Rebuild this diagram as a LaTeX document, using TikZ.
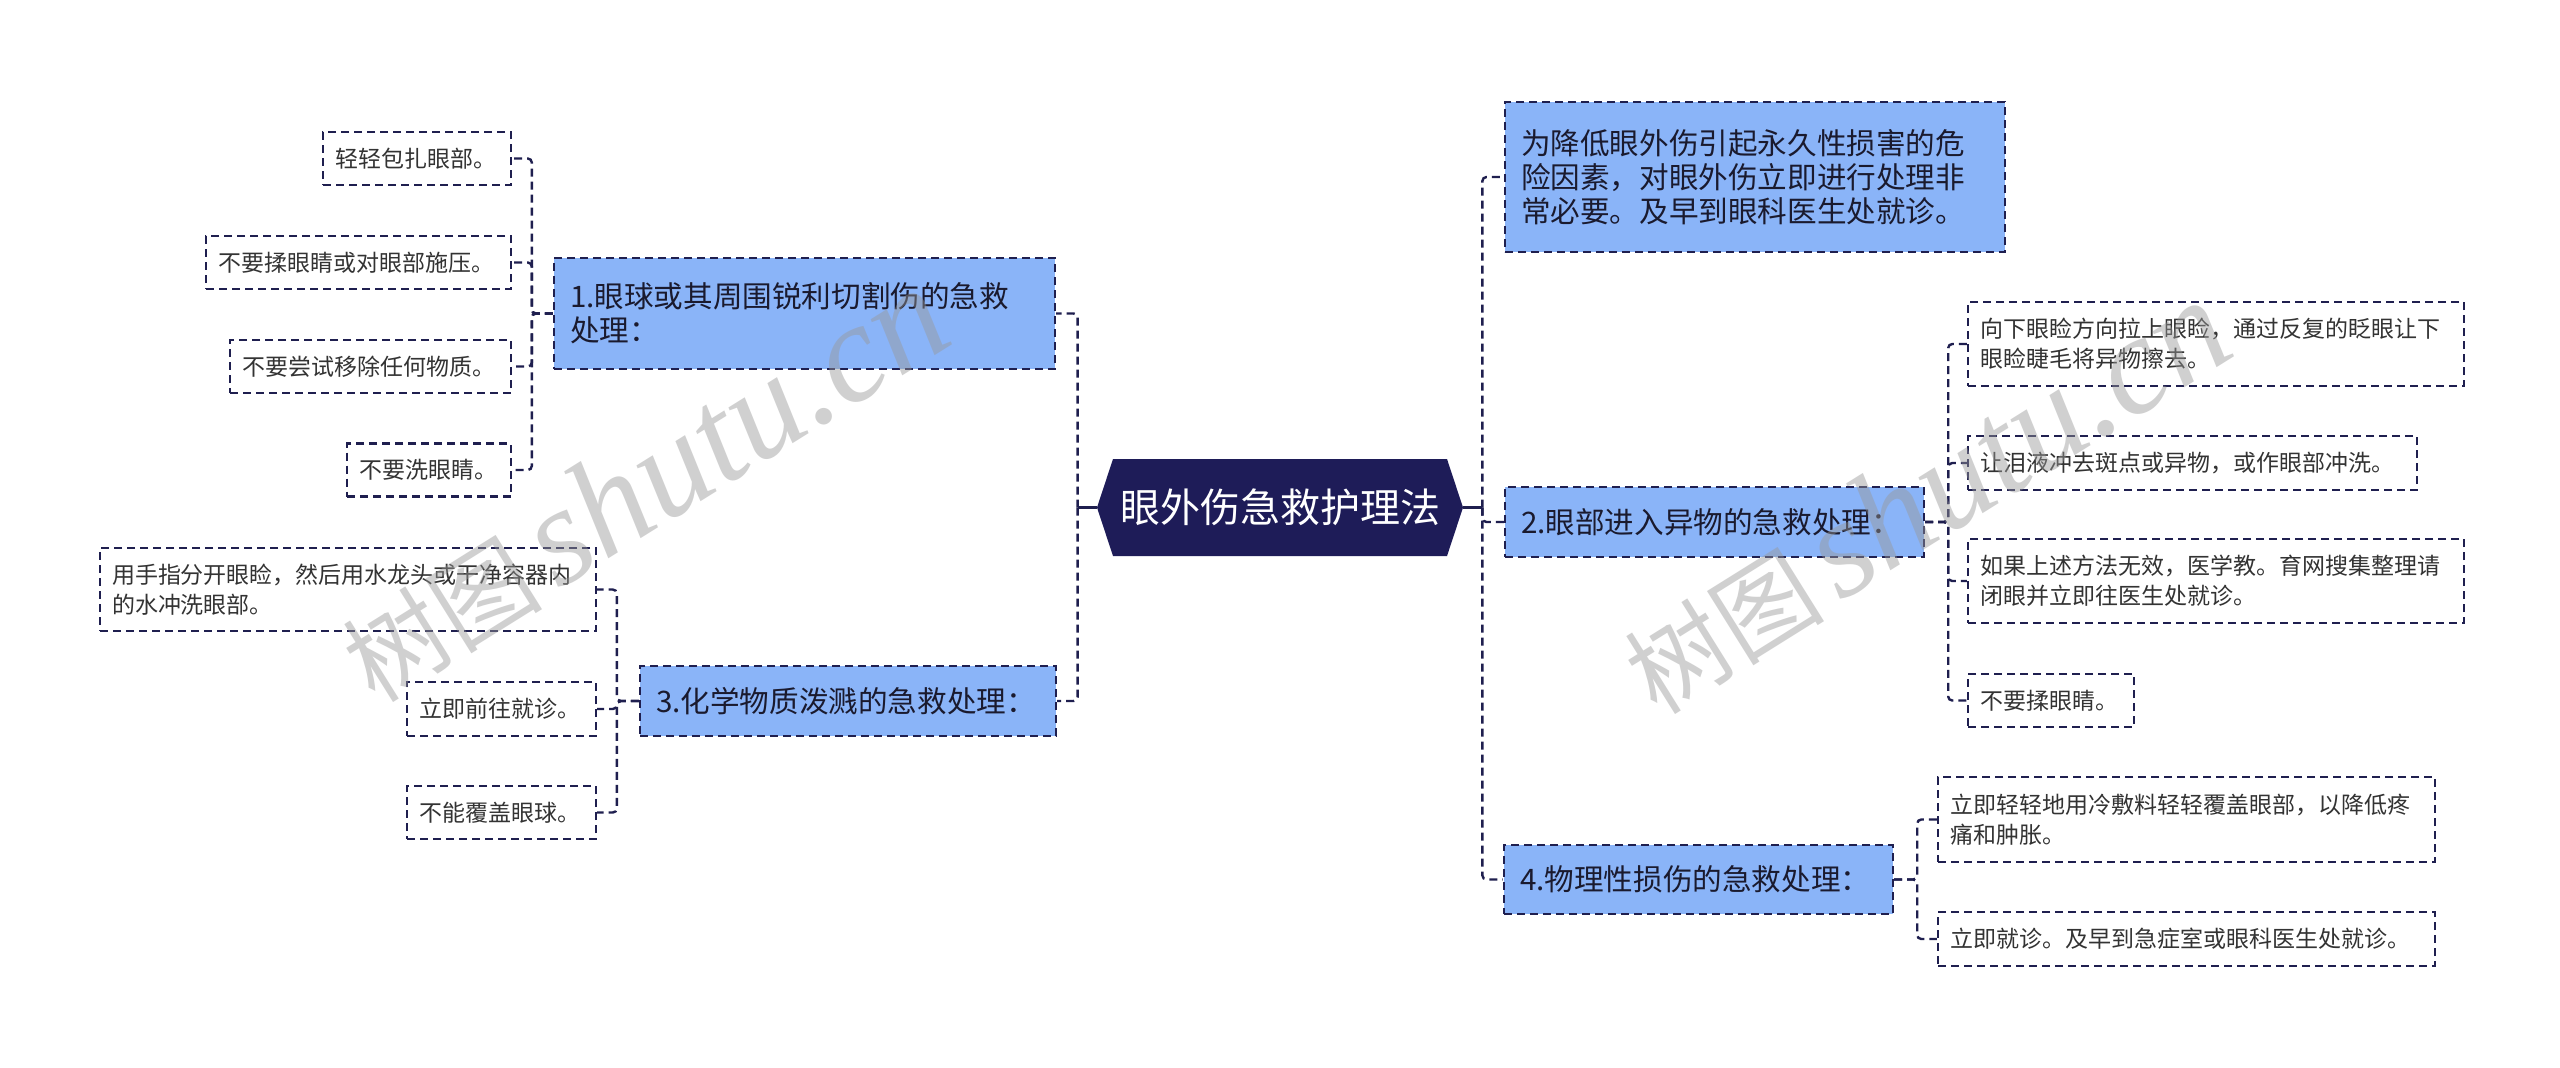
\documentclass[tikz,border=0pt]{standalone}
\usepackage{fontspec}
\setmainfont{Noto Sans CJK SC}
\newfontfamily\wmlatin{Liberation Serif}
\usetikzlibrary{calc}
\definecolor{navy}{HTML}{1E1C58}
\definecolor{lineC}{HTML}{1F1F4F}
\definecolor{blueF}{HTML}{8AB4F8}
\definecolor{txt}{HTML}{333333}
\definecolor{btxt}{HTML}{1A1A2E}
\definecolor{wm}{HTML}{989898}
\begin{document}
\begin{tikzpicture}[x=0.5pt,y=-0.5pt,
  dsh/.style={dash pattern=on 4pt off 2.5pt},
  conn/.style={draw=lineC, line width=1.2pt, dsh, rounded corners=2pt},
  stub/.style={draw=lineC, line width=1.2pt},
  bluebox/.style={draw=lineC, line width=1.2pt, dsh, fill=blueF, inner xsep=8pt, inner ysep=0pt, align=left, text=btxt, font=\fontsize{14.8pt}{17pt}\selectfont},
  leaf/.style={draw=lineC, line width=1.2pt, dsh, fill=white, inner xsep=6pt, inner ysep=0pt, align=left, text=txt, font=\fontsize{11.5pt}{15pt}\selectfont},
  wmark/.style={anchor=base west, rotate=32, text=wm, opacity=0.45, inner sep=0pt, font=\fontsize{50pt}{50pt}\selectfont},
]
\fill[white] (0,0) rectangle (2560,1067);
\useasboundingbox (0,0) rectangle (2560,1067);

% root
\fill[navy] (1097,507.5) -- (1113,459) -- (1447,459) -- (1463,507.5) -- (1447,556) -- (1113,556) -- cycle;
\node[minimum width=183pt, minimum height=48.5pt, inner sep=0pt, text=white, font=\fontsize{20pt}{24pt}\selectfont] (root) at (1280,507.5) {眼外伤急救护理法};

% main branches
\node[bluebox, text width=234.5pt, minimum height=55.5pt] (L1) at (804.5,313.5) {1.眼球或其周围锐利切割伤的急救\\处理：};
\node[bluebox, text width=192pt, minimum height=35pt] (L3) at (848,701) {3.化学物质泼溅的急救处理：};
\node[bluebox, text width=234pt, minimum height=75pt] (R0) at (1755,177) {为降低眼外伤引起永久性损害的危\\险因素，对眼外伤立即进行处理非\\常必要。及早到眼科医生处就诊。};
\node[bluebox, text width=193.5pt, minimum height=35pt] (R2) at (1714.5,522) {2.眼部进入异物的急救处理：};
\node[bluebox, text width=178.5pt, minimum height=34.5pt] (R4) at (1698.5,879.5) {4.物理性损伤的急救处理：};

% leaves of L1
\node[leaf, text width=82pt, minimum height=26.5pt] (a1) at (417,158.5) {轻轻包扎眼部。};
\node[leaf, text width=140.5pt, minimum height=26.5pt] (a2) at (358.5,262.5) {不要揉眼睛或对眼部施压。};
\node[leaf, text width=128.5pt, minimum height=26.5pt] (a3) at (370.5,366.5) {不要尝试移除任何物质。};
\node[leaf, text width=70pt, minimum height=26.5pt] (a4) at (429,470) {不要洗眼睛。};

% leaves of L3
\node[leaf, text width=236pt, minimum height=41.5pt] (b1) at (348,589.5) {用手指分开眼睑，然后用水龙头或干净容器内\\的水冲洗眼部。};
\node[leaf, text width=82.5pt, minimum height=27pt] (b2) at (501.5,709) {立即前往就诊。};
\node[leaf, text width=82.5pt, minimum height=26.5pt] (b3) at (501.5,812.5) {不能覆盖眼球。};

% leaves of R2
\node[leaf, text width=236pt, minimum height=42pt] (c1) at (2216,344) {向下眼睑方向拉上眼睑，通过反复的眨眼让下\\眼睑睫毛将异物擦去。};
\node[leaf, text width=212.5pt, minimum height=27pt] (c2) at (2192.5,463) {让泪液冲去斑点或异物，或作眼部冲洗。};
\node[leaf, text width=236pt, minimum height=42pt] (c3) at (2216,581) {如果上述方法无效，医学教。育网搜集整理请\\闭眼并立即往医生处就诊。};
\node[leaf, text width=71pt, minimum height=26.5pt] (c4) at (2051,700.5) {不要揉眼睛。};

% leaves of R4
\node[leaf, text width=236.5pt, minimum height=42.5pt] (d1) at (2186.5,819.5) {立即轻轻地用冷敷料轻轻覆盖眼部，以降低疼\\痛和肿胀。};
\node[leaf, text width=236.5pt, minimum height=27pt] (d2) at (2186.5,939) {立即就诊。及早到急症室或眼科医生处就诊。};

% connectors from root
\coordinate (tl) at ($(root.west)+(-19,0)$);
\coordinate (tr) at ($(root.east)+(19,0)$);
\draw[stub] (root.west) -- (tl);
\draw[stub] (root.east) -- (tr);
\draw[conn] (tl) |- (L1.east);
\draw[conn] (tl) |- (L3.east);
\draw[conn] (tr) |- (R0.west);
\draw[conn] (tr) |- (R2.west);
\draw[conn] (tr) |- (R4.west);

% connectors L1
\coordinate (t1) at ($(L1.west)+(-21,0)$);
\foreach \c in {a1,a2,a3,a4} \draw[conn] (L1.west) -- (t1) |- (\c.east);
% connectors L3
\coordinate (t3) at ($(L3.west)+(-22,0)$);
\foreach \c in {b1,b2,b3} \draw[conn] (L3.west) -- (t3) |- (\c.east);
% connectors R2
\coordinate (t2) at ($(R2.east)+(23,0)$);
\foreach \c in {c1,c2,c3,c4} \draw[conn] (R2.east) -- (t2) |- (\c.west);
% connectors R4
\coordinate (t4) at ($(R4.east)+(23,0)$);
\foreach \c in {d1,d2} \draw[conn] (R4.east) -- (t4) |- (\c.west);

% watermarks
\node[wmark] (wm1) at (375,705) {树图\hspace{8pt}{\wmlatin\itshape\fontsize{70pt}{70pt}\selectfont shutu.cn}};
\node[wmark] (wm2) at (1657,717) {树图\hspace{8pt}{\wmlatin\itshape\fontsize{70pt}{70pt}\selectfont shutu.cn}};
\end{tikzpicture}
\end{document}
